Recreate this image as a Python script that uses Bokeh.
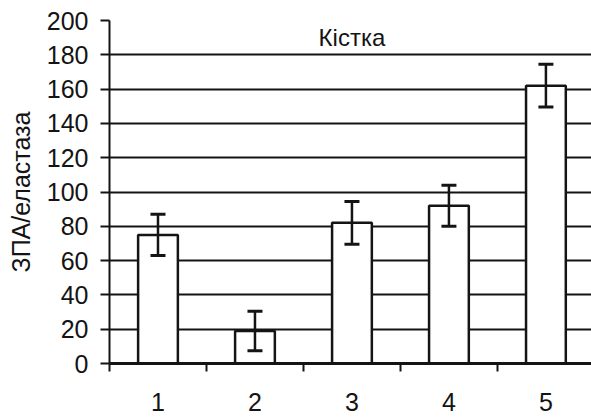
from bokeh.plotting import figure
from bokeh.models import ColumnDataSource, Whisker, TeeHead, FixedTicker, Range1d, Label
from bokeh.embed import file_html
from bokeh.resources import INLINE

categories = ["1", "2", "3", "4", "5"]
values = [75, 19, 82, 92, 162]
errors = [12, 11.5, 12.5, 12, 12.5]
y_ticks = [0, 20, 40, 60, 80, 100, 120, 140, 160, 180, 200]
title_text = "Кістка"
y_label = "ЗПА/еластаза"

xs = [i + 1 for i in range(len(categories))]
src = ColumnDataSource(dict(
    x=xs, top=values,
    upper=[v + e for v, e in zip(values, errors)],
    lower=[v - e for v, e in zip(values, errors)],
))

FONT = "Liberation Sans"
INK = "#141414"

p = figure(width=591, height=417, output_backend="svg", toolbar_location=None,
           x_range=Range1d(0.5, 5.47), y_range=Range1d(0, 200),
           min_border_left=109, min_border_right=0, min_border_top=20, min_border_bottom=54)
p.outline_line_color = None
p.background_fill_color = "white"
p.border_fill_color = "white"

p.vbar(x="x", top="top", width=0.41, bottom=0, source=src,
       fill_color="white", line_color=INK, line_width=2.5)

w = Whisker(source=src, base="x", upper="upper", lower="lower",
            line_color=INK, line_width=2.5, level="annotation",
            upper_head=TeeHead(size=15, line_color=INK, line_width=3),
            lower_head=TeeHead(size=15, line_color=INK, line_width=3))
p.add_layout(w)

# y axis
p.yaxis.ticker = FixedTicker(ticks=y_ticks, minor_ticks=[])
p.yaxis.major_tick_out = 9
p.yaxis.major_tick_in = 0
p.yaxis.major_tick_line_width = 2
p.yaxis.major_tick_line_color = INK
p.yaxis.axis_line_width = 2
p.yaxis.axis_line_color = INK
p.yaxis.major_label_standoff = 12
p.yaxis.major_label_text_font = FONT
p.yaxis.major_label_text_font_size = "25px"
p.yaxis.major_label_text_color = INK
p.yaxis.axis_label = y_label
p.yaxis.axis_label_text_font = FONT
p.yaxis.axis_label_text_font_size = "25px"
p.yaxis.axis_label_text_font_style = "normal"
p.yaxis.axis_label_text_color = INK
p.yaxis.axis_label_standoff = 9

# x axis
p.xaxis.ticker = FixedTicker(ticks=xs, minor_ticks=[x - 0.5 for x in xs])
p.xaxis.major_label_overrides = {x: c for x, c in zip(xs, categories)}
p.xaxis.major_tick_out = 0
p.xaxis.major_tick_in = 0
p.xaxis.minor_tick_out = 8
p.xaxis.minor_tick_in = 0
p.xaxis.minor_tick_line_width = 2
p.xaxis.minor_tick_line_color = INK
p.xaxis.axis_line_width = 3
p.xaxis.axis_line_color = INK
p.xaxis.major_label_standoff = 21
p.xaxis.major_label_text_font = FONT
p.xaxis.major_label_text_font_size = "25px"
p.xaxis.major_label_text_color = INK

# grid
p.xgrid.grid_line_color = None
p.ygrid.ticker = FixedTicker(ticks=y_ticks, minor_ticks=[])
p.ygrid.grid_line_color = INK
p.ygrid.grid_line_width = 2
p.ygrid.grid_line_alpha = 1.0

p.add_layout(Label(x=3.0, y=190, text=title_text, text_align="center", text_baseline="middle",
                   text_font=FONT, text_font_size="24px", text_color=INK))

open("out.html", "w").write(file_html(p, INLINE))
